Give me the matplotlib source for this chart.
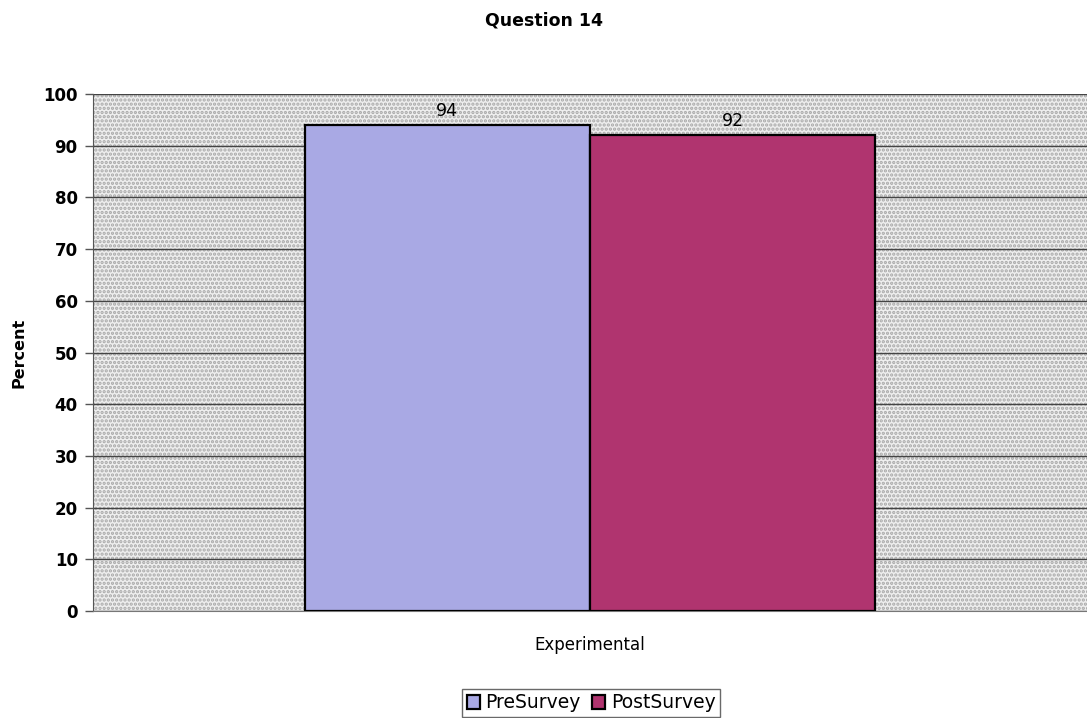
import matplotlib.pyplot as plt
import numpy as np

plt.rcParams['font.family'] = ['DejaVu Sans']
plt.rcParams['hatch.linewidth'] = 1.6

group = 'Experimental'
series = ['PreSurvey', 'PostSurvey']
values = [94, 92]
colors = ['#a9a9e4', '#b0346f']
yticks = [0, 10, 20, 30, 40, 50, 60, 70, 80, 90, 100]

fig = plt.figure(figsize=(10.87, 7.18), dpi=100)
ax = fig.add_axes([93 / 1087, 1 - 611 / 718, 1 - 93 / 1087, (611 - 94) / 718])

# dotted grey plot background
ax.patch.set_facecolor('#eeeeee')
ax.patch.set_hatch('....')
ax.patch.set_edgecolor('#a8a8a8')
ax.patch.set_linewidth(0)

width = 0.287
offsets = [-width / 2, width / 2]
for off, val, col, name in zip(offsets, values, colors, series):
    ax.bar(off, val, width=width, color=col, edgecolor='black',
           linewidth=1.6, label=name, zorder=3)
    ax.text(off, val + 1.0, str(val), ha='center', va='bottom',
            fontsize=12.5, zorder=4)

ax.set_xlim(-0.5, 0.5)
ax.set_ylim(0, 100)
ax.set_yticks(yticks)
ax.set_yticklabels([str(t) for t in yticks], fontsize=12, fontweight='bold')
ax.set_xticks([])
ax.yaxis.grid(True, color='#444444', linewidth=1.0, zorder=1)
ax.set_axisbelow(True)
ax.tick_params(axis='y', length=6, width=1, color='#555555', pad=5)

for s in ['top', 'right']:
    ax.spines[s].set_visible(False)
ax.spines['left'].set_color('#555555')
ax.spines['bottom'].set_color('#777777')

ax.set_ylabel('Percent', fontsize=11.5, fontweight='bold', labelpad=12)
fig.text(590 / 1087, 1 - 645 / 718, group, ha='center', va='center', fontsize=12)
fig.text(544 / 1087, 1 - 20 / 718, 'Question 14', ha='center', va='center',
         fontsize=12.5, fontweight='bold')

leg = fig.legend(loc='center', bbox_to_anchor=(591 / 1087, 1 - 703 / 718),
                 ncol=2, frameon=True, fancybox=False, fontsize=13.5,
                 handlelength=0.7, handleheight=0.7, handletextpad=0.3,
                 columnspacing=0.6, borderpad=0.25)
leg.get_frame().set_edgecolor('#444444')
leg.get_frame().set_linewidth(1.0)

fig.savefig('out.png', dpi=100)
